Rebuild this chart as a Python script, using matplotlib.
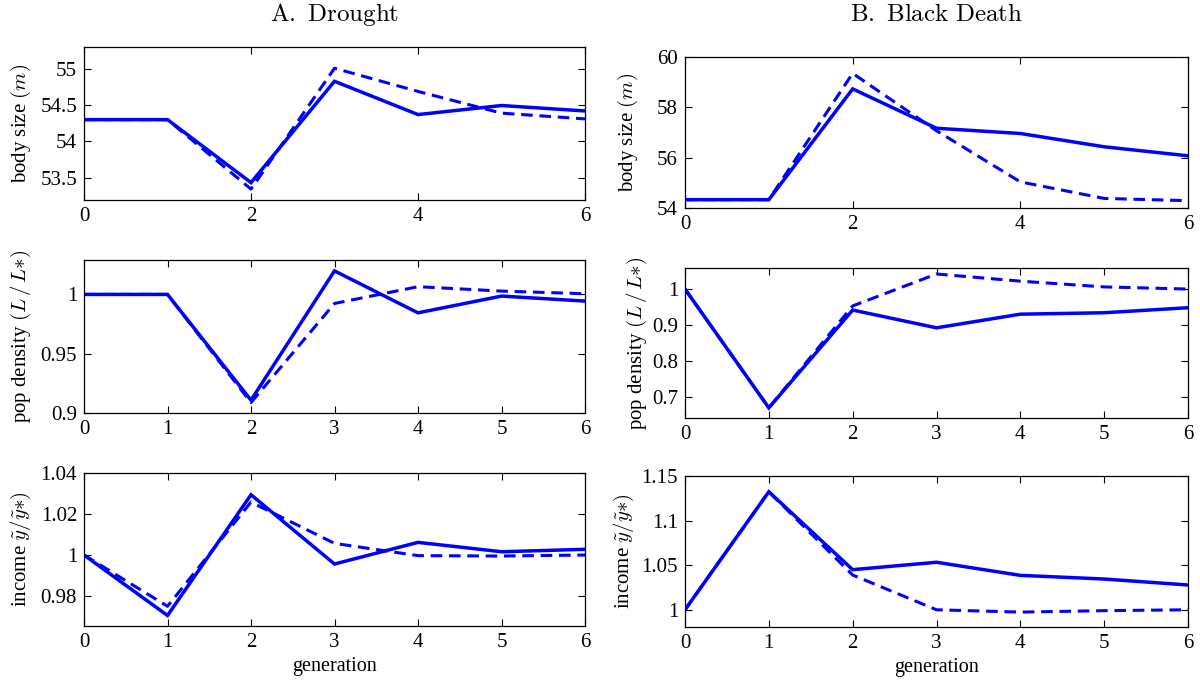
import matplotlib
matplotlib.use("Agg")
import matplotlib.pyplot as plt
from matplotlib.ticker import FixedLocator, FixedFormatter

plt.rcParams['font.family'] = ['Liberation Serif', 'DejaVu Serif']
plt.rcParams['mathtext.fontset'] = 'cm'

generation = [0, 1, 2, 3, 4, 5, 6]

# A. Drought
drought_body_solid = [54.30, 54.30, 53.43, 54.83, 54.37, 54.495, 54.42]
drought_body_dashed = [54.30, 54.30, 53.34, 55.01, 54.69, 54.39, 54.31]
drought_pop_solid = [1.0, 1.0, 0.911, 1.0198, 0.9845, 0.9986, 0.9944]
drought_pop_dashed = [1.0, 1.0, 0.909, 0.9924, 1.0065, 1.0028, 1.0006]
drought_inc_solid = [1.0, 0.9704, 1.0295, 0.9956, 1.0062, 1.0016, 1.0028]
drought_inc_dashed = [1.0, 0.9749, 1.0259, 1.0057, 0.9997, 0.9995, 1.0]

# B. Black Death
bd_body_solid = [54.32, 54.32, 58.74, 57.17, 56.96, 56.43, 56.07]
bd_body_dashed = [54.32, 54.32, 59.36, 57.07, 55.03, 54.37, 54.28]
bd_pop_solid = [1.0, 0.669, 0.9415, 0.892, 0.930, 0.934, 0.948]
bd_pop_dashed = [1.0, 0.669, 0.953, 1.042, 1.022, 1.006, 1.0]
bd_inc_solid = [1.0, 1.1324, 1.045, 1.0533, 1.0386, 1.0345, 1.0278]
bd_inc_dashed = [1.0, 1.1324, 1.039, 1.0, 0.9974, 0.999, 1.0]

titles = [r"$\mathrm{A.\ Drought}$", r"$\mathrm{B.\ Black\ Death}$"]
ylabels = [r"body size $(m)$", r"pop density $(L\,/\,L{*})$", r"income $\tilde{y}/\tilde{y}{*})$"]

panels = [
    # (col, row, solid, dashed, ylim, yticks, yticklabels, xticks, rect, ylabel_x)
    (0, 0, drought_body_solid, drought_body_dashed, (53.19, 55.3),
     [53.5, 54, 54.5, 55], ["53.5", "54", "54.5", "55"], [0, 2, 4, 6],
     [84/1200, 0.7072, 501/1200, 0.2236], -0.102),
    (0, 1, drought_pop_solid, drought_pop_dashed, (0.9, 1.029),
     [0.9, 0.95, 1.0], ["0.9", "0.95", "1"], generation,
     [84/1200, 0.3949, 501/1200, 0.2245], -0.102),
    (0, 2, drought_inc_solid, drought_inc_dashed, (0.9654, 1.04),
     [0.98, 1.0, 1.02, 1.04], ["0.98", "1", "1.02", "1.04"], generation,
     [84/1200, 0.0839, 501/1200, 0.2231], -0.102),
    (1, 0, bd_body_solid, bd_body_dashed, (54, 60),
     [54, 56, 58, 60], ["54", "56", "58", "60"], [0, 2, 4, 6],
     [685/1200, 0.6959, 503/1200, 0.2202], -0.089),
    (1, 1, bd_pop_solid, bd_pop_dashed, (0.6415, 1.0577),
     [0.7, 0.8, 0.9, 1.0], ["0.7", "0.8", "0.9", "1"], generation,
     [685/1200, 0.3884, 503/1200, 0.2187], -0.072),
    (1, 2, bd_inc_solid, bd_inc_dashed, (0.981, 1.15),
     [1.0, 1.05, 1.1, 1.15], ["1", "1.05", "1.1", "1.15"], generation,
     [685/1200, 0.0824, 503/1200, 0.2206], -0.097),
]

fig = plt.figure(figsize=(12, 6.83), dpi=100)

for col, row, solid, dashed, ylim, yt, ytl, xt, rect, ylx in panels:
    ax = fig.add_axes(rect)
    ax.plot(generation, solid, color=(0, 0, 1), lw=2.5, solid_joinstyle='miter')
    ax.plot(generation, dashed, color=(0, 0, 1), lw=2.2, linestyle=(0, (3.8, 2.2)))
    ax.set_xlim(0, 6)
    ax.set_ylim(*ylim)
    ax.xaxis.set_major_locator(FixedLocator(xt))
    ax.xaxis.set_major_formatter(FixedFormatter([str(v) for v in xt]))
    ax.yaxis.set_major_locator(FixedLocator(yt))
    ax.yaxis.set_major_formatter(FixedFormatter(ytl))
    ax.tick_params(direction='in', top=True, right=True, length=5, width=0.8,
                   labelsize=15, pad=5)
    for s in ax.spines.values():
        s.set_linewidth(0.9)
    ax.set_ylabel(ylabels[row], fontsize=15)
    ax.yaxis.set_label_coords(ylx, 0.5)
    if row == 2:
        ax.set_xlabel("generation", fontsize=14.5, labelpad=4)

fig.text(335/1200, 1 - 15/683, titles[0], ha='center', va='center', fontsize=18)
fig.text(936/1200, 1 - 15/683, titles[1], ha='center', va='center', fontsize=18)

fig.savefig("out.png", dpi=100)
